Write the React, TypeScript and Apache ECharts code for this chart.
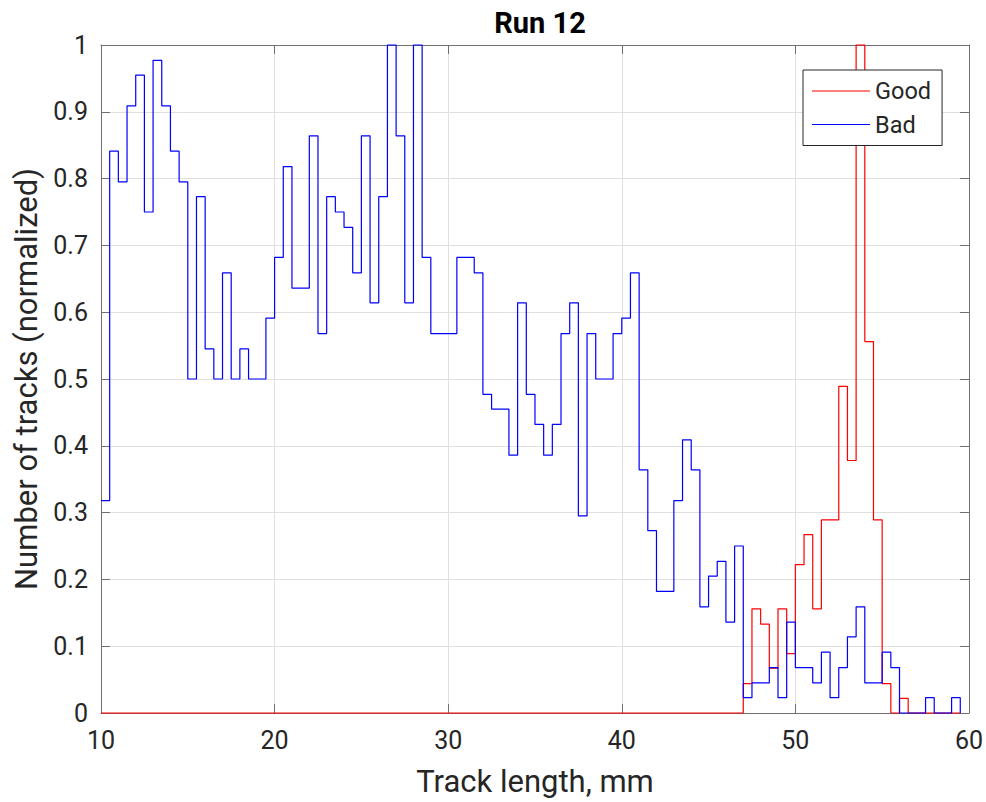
import React, { useEffect, useRef } from "react";
import * as echarts from "echarts";

// Histogram bins: 0.5 mm wide, starting at 10 mm (99 bins, 10 .. 59.5)
const BIN_START = 10;
const BIN_WIDTH = 0.5;

const GOOD_VALUES: number[] = [
  0, 0, 0, 0, 0, 0, 0, 0, 0, 0,
  0, 0, 0, 0, 0, 0, 0, 0, 0, 0,
  0, 0, 0, 0, 0, 0, 0, 0, 0, 0,
  0, 0, 0, 0, 0, 0, 0, 0, 0, 0,
  0, 0, 0, 0, 0, 0, 0, 0, 0, 0,
  0, 0, 0, 0, 0, 0, 0, 0, 0, 0,
  0, 0, 0, 0, 0, 0, 0, 0, 0, 0,
  0, 0, 0, 0, 0.044, 0.156, 0.133, 0.067, 0.156, 0.089,
  0.222, 0.267, 0.156, 0.289, 0.289, 0.489, 0.378, 1.0, 0.556, 0.289,
  0.044, 0, 0.022, 0, 0, 0, 0, 0, 0,
];

const BAD_VALUES: number[] = [
  0.318, 0.841, 0.795, 0.909, 0.955, 0.75, 0.977, 0.909, 0.841, 0.795,
  0.5, 0.773, 0.545, 0.5, 0.659, 0.5, 0.545, 0.5, 0.5, 0.591,
  0.682, 0.818, 0.636, 0.636, 0.864, 0.568, 0.773, 0.75, 0.727, 0.659,
  0.864, 0.614, 0.773, 1.0, 0.864, 0.614, 1.0, 0.682, 0.568, 0.568,
  0.568, 0.682, 0.682, 0.659, 0.477, 0.455, 0.455, 0.386, 0.614, 0.477,
  0.432, 0.386, 0.432, 0.568, 0.614, 0.295, 0.568, 0.5, 0.5, 0.568,
  0.591, 0.659, 0.364, 0.273, 0.182, 0.182, 0.318, 0.409, 0.364, 0.159,
  0.205, 0.227, 0.136, 0.25, 0.023, 0.045, 0.045, 0.068, 0.023, 0.136,
  0.068, 0.068, 0.045, 0.091, 0.023, 0.068, 0.114, 0.159, 0.045, 0.045,
  0.091, 0.068, 0, 0, 0, 0.023, 0, 0, 0.023,
];

const SERIES_NAMES = ["Good", "Bad"];
const X_MIN = 10;
const X_MAX = 60;
const X_INTERVAL = 10;
const Y_MIN = 0;
const Y_MAX = 1;
const Y_INTERVAL = 0.1;

function stairs(values: number[]): [number, number][] {
  const pts: [number, number][] = [];
  values.forEach((v, i) => pts.push([BIN_START + i * BIN_WIDTH, v]));
  pts.push([BIN_START + values.length * BIN_WIDTH, 0]);
  return pts;
}

const AXIS_COLOR = "#707070";
const TEXT_COLOR = "#262626";
const GRID_COLOR = "#dfdfdf";
const FONT = "Roboto";

export default function App() {
  const ref = useRef<HTMLDivElement>(null);

  useEffect(() => {
    if (!ref.current) return;
    const chart = echarts.init(ref.current, undefined, { renderer: "svg" });

    const axisLine = { show: true, onZero: false, lineStyle: { color: AXIS_COLOR, width: 1 } };
    const axisTick = { show: true, inside: true, length: 9, lineStyle: { color: AXIS_COLOR, width: 1 } };
    const fmt = (v: number) => String(+v.toFixed(1));

    const option: any = {
      animation: false,
      backgroundColor: "#ffffff",
      textStyle: { fontFamily: FONT },
      title: {
        text: "Run 12",
        left: 535,
        textAlign: "center",
        top: 3,
        textStyle: { fontFamily: FONT, fontWeight: "bold", fontSize: 29, color: "#000000" },
      },
      grid: { left: 101, top: 45, width: 868, height: 671, containLabel: false },
      legend: {
        data: SERIES_NAMES,
        orient: "vertical",
        left: 803,
        top: 70,
        icon: "rect",
        itemWidth: 58,
        itemHeight: 1.2,
        itemGap: 9.5,
        padding: [9, 11, 9, 9],
        borderColor: "#262626",
        borderWidth: 1,
        backgroundColor: "#ffffff",
        textStyle: { fontFamily: FONT, fontSize: 23.5, color: TEXT_COLOR, lineHeight: 24 },
      },
      xAxis: [
        {
          type: "value",
          min: X_MIN,
          max: X_MAX,
          interval: X_INTERVAL,
          position: "bottom",
          name: "Track length, mm",
          nameLocation: "middle",
          nameGap: 53,
          nameTextStyle: { fontFamily: FONT, fontSize: 31, color: TEXT_COLOR },
          axisLine,
          axisTick,
          axisLabel: { fontFamily: FONT, fontSize: 25, color: TEXT_COLOR, margin: 15, formatter: fmt },
          splitLine: { show: true, lineStyle: { color: GRID_COLOR, width: 1 } },
        },
        {
          type: "value",
          min: X_MIN,
          max: X_MAX,
          interval: X_INTERVAL,
          position: "top",
          axisLine,
          axisTick,
          axisLabel: { show: false },
          splitLine: { show: false },
        },
      ],
      yAxis: [
        {
          type: "value",
          min: Y_MIN,
          max: Y_MAX,
          interval: Y_INTERVAL,
          position: "left",
          name: "Number of tracks (normalized)",
          nameLocation: "middle",
          nameRotate: 90,
          nameGap: 55,
          nameTextStyle: { fontFamily: FONT, fontSize: 31, color: TEXT_COLOR },
          axisLine,
          axisTick,
          axisLabel: { fontFamily: FONT, fontSize: 25, color: TEXT_COLOR, margin: 13, formatter: fmt },
          splitLine: { show: true, lineStyle: { color: GRID_COLOR, width: 1 } },
        },
        {
          type: "value",
          min: Y_MIN,
          max: Y_MAX,
          interval: Y_INTERVAL,
          position: "right",
          axisLine,
          axisTick,
          axisLabel: { show: false },
          splitLine: { show: false },
        },
      ],
      series: [
        {
          name: SERIES_NAMES[0],
          type: "line",
          step: "end",
          data: [[BIN_START, 0], ...stairs(GOOD_VALUES)],
          symbol: "none",
          clip: false,
          color: "#ff0000",
          lineStyle: { color: "#ff0000", width: 1.2 },
          itemStyle: { color: "#ff0000" },
          z: 3,
        },
        {
          name: SERIES_NAMES[1],
          type: "line",
          step: "end",
          data: stairs(BAD_VALUES),
          symbol: "none",
          clip: false,
          color: "#0000ff",
          lineStyle: { color: "#0000ff", width: 1.2 },
          itemStyle: { color: "#0000ff" },
          z: 4,
        },
      ],
    };

    chart.setOption(option);
    return () => chart.dispose();
  }, []);

  return (
    <div
      ref={ref}
      style={{ position: "absolute", left: 0, top: 0, width: 986, height: 802, background: "#ffffff" }}
    />
  );
}
